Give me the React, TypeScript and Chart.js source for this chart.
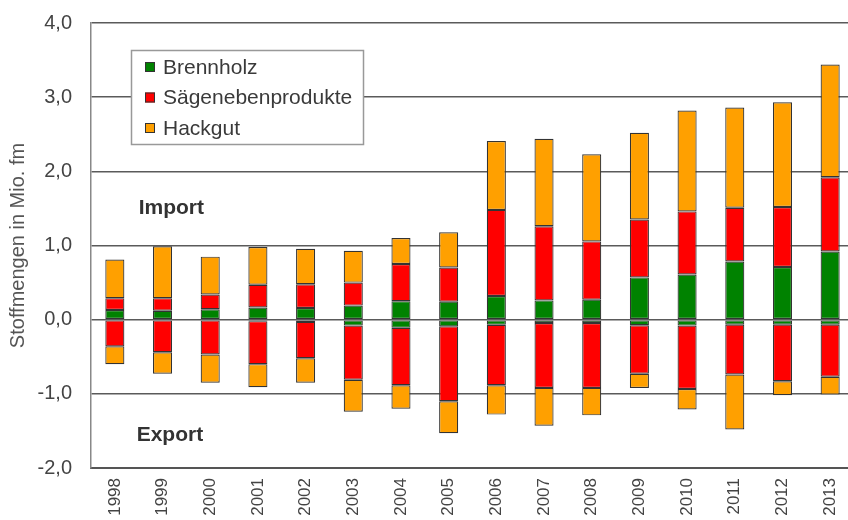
import React, { useEffect, useRef } from 'react';
import { Chart, registerables } from 'chart.js';

Chart.register(...registerables);

const years = ['1998', '1999', '2000', '2001', '2002', '2003', '2004', '2005', '2006', '2007', '2008', '2009', '2010', '2011', '2012', '2013'];

const brennholzImport = [0.13, 0.12, 0.14, 0.165, 0.157, 0.19, 0.25, 0.243, 0.32, 0.26, 0.27, 0.57, 0.61, 0.785, 0.71, 0.92];
const saegeImport = [0.16, 0.17, 0.2, 0.305, 0.32, 0.31, 0.5, 0.46, 1.16, 1.0, 0.785, 0.78, 0.85, 0.725, 0.81, 1.0];
const hackgutImport = [0.52, 0.7, 0.51, 0.51, 0.48, 0.43, 0.35, 0.475, 0.93, 1.18, 1.175, 1.17, 1.36, 1.35, 1.41, 1.52];

const brennholzExport = [null, null, null, -0.02, -0.03, -0.08, -0.11, -0.09, -0.07, -0.045, -0.045, -0.076, -0.08, -0.067, -0.067, -0.067];
const saegeExport = [-0.36, -0.44, -0.47, -0.58, -0.49, -0.73, -0.775, -1.01, -0.815, -0.875, -0.875, -0.654, -0.855, -0.673, -0.763, -0.703];
const hackgutExport = [-0.24, -0.29, -0.38, -0.31, -0.33, -0.43, -0.315, -0.43, -0.395, -0.51, -0.37, -0.19, -0.275, -0.74, -0.19, -0.24];

const seriesLabels = ['Brennholz', 'Sägenebenprodukte', 'Hackgut'];
const seriesColors = ['#008200', '#ff0000', '#ffa000'];

const yMin = -2;
const yMax = 4;
const importLabelValue = 1.5;
const exportLabelValue = -1.56;
const yTitle = 'Stoffmengen in Mio. fm';

const FONT = '"Liberation Sans", Arial, Helvetica, sans-serif';

const overlayPlugin = {
  id: 'overlay',
  afterDatasetsDraw(chart: any) {
    const { ctx, chartArea, scales } = chart;
    const x = scales.x;
    const y = scales.y;
    ctx.save();
    // Import / Export annotations
    ctx.font = `bold 21px ${FONT}`;
    ctx.fillStyle = '#333333';
    ctx.textAlign = 'left';
    ctx.textBaseline = 'middle';
    const lx = (x.getPixelForValue(0) + x.getPixelForValue(1)) / 2;
    ctx.fillText('Import', lx, y.getPixelForValue(importLabelValue));
    ctx.fillText('Export', lx - 2, y.getPixelForValue(exportLabelValue));

    // Legend box
    const bx = chartArea.left + 40;
    const by = chartArea.top + 27;
    const bw = 232;
    const bh = 94;
    ctx.fillStyle = '#ffffff';
    ctx.fillRect(bx, by, bw, bh);
    ctx.strokeStyle = '#999999';
    ctx.lineWidth = 1.5;
    ctx.strokeRect(bx + 0.5, by + 0.5, bw, bh);
    ctx.font = `21px ${FONT}`;
    for (let i = 0; i < seriesLabels.length; i++) {
      const cy = by + 17 + i * 30.5;
      ctx.fillStyle = seriesColors[i];
      ctx.fillRect(bx + 14, cy - 5, 10, 10);
      ctx.strokeStyle = '#333333';
      ctx.lineWidth = 1;
      ctx.strokeRect(bx + 14.5, cy - 4.5, 9, 9);
      ctx.fillStyle = '#3a3a3a';
      ctx.fillText(seriesLabels[i], bx + 32, cy + 1);
    }
    ctx.restore();
  },
};

export default function App() {
  const canvasRef = useRef<HTMLCanvasElement | null>(null);

  useEffect(() => {
    const canvas = canvasRef.current;
    if (!canvas) return;
    const mk = (label: string, data: any[], color: string) => ({
      label,
      data,
      backgroundColor: color,
      borderColor: '#333333',
      borderWidth: 1.2,
      borderSkipped: false,
      barPercentage: 0.4,
      categoryPercentage: 1,
    });
    const chart = new Chart(canvas, {
      type: 'bar',
      data: {
        labels: years,
        datasets: [
          mk(seriesLabels[0], brennholzImport, seriesColors[0]),
          mk(seriesLabels[1], saegeImport, seriesColors[1]),
          mk(seriesLabels[2], hackgutImport, seriesColors[2]),
          mk(seriesLabels[0] + ' Export', brennholzExport, seriesColors[0]),
          mk(seriesLabels[1] + ' Export', saegeExport, seriesColors[1]),
          mk(seriesLabels[2] + ' Export', hackgutExport, seriesColors[2]),
        ] as any,
      },
      options: {
        responsive: false,
        animation: false,
        devicePixelRatio: 1,
        layout: { padding: { left: 0, right: 16, top: 23, bottom: 0 } },
        plugins: {
          legend: { display: false },
          tooltip: { enabled: false },
        },
        scales: {
          x: {
            stacked: true,
            grid: { display: false, drawTicks: false },
            border: { display: true, color: '#555555', width: 2 },
            ticks: {
              minRotation: 90,
              maxRotation: 90,
              padding: 10,
              color: '#444444',
              font: { size: 17, family: FONT },
            },
            afterFit(scale: any) {
              scale.height = 52;
            },
          },
          y: {
            stacked: true,
            min: yMin,
            max: yMax,
            ticks: {
              stepSize: 1,
              padding: 0,
              color: '#444444',
              font: { size: 20, family: FONT },
              callback: (v: any) => Number(v).toFixed(1).replace('.', ','),
            },
            grid: { color: '#5a5a5a', lineWidth: 1.5, drawTicks: true, tickLength: 19, tickColor: 'rgba(0,0,0,0)' },
            border: { display: true, color: '#888888', width: 1.5 },
            title: {
              display: true,
              text: yTitle,
              color: '#555555',
              font: { size: 20, family: FONT },
              padding: { top: 6, bottom: 0 },
            },
            afterFit(scale: any) {
              scale.width = 91;
            },
          },
        },
      },
      plugins: [overlayPlugin],
    } as any);
    return () => chart.destroy();
  }, []);

  return (
    <div style={{ position: 'fixed', left: 0, top: 0, width: 848, height: 520, overflow: 'hidden', background: '#ffffff' }}>
      <canvas ref={canvasRef} width={870} height={520} style={{ display: 'block' }} />
    </div>
  );
}
